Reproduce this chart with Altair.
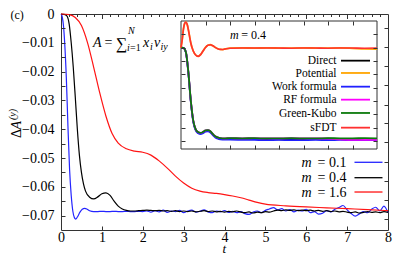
import altair as alt
import pandas as pd

# ---------------- data ----------------
# main panel: m = 0.1 (blue)
T_BLUE_EARLY = [0, 0.03, 0.06, 0.09, 0.13, 0.17, 0.21, 0.25, 0.29, 0.33, 0.36, 0.40,
                0.46, 0.52, 0.58, 0.64, 0.70]
V_BLUE_EARLY = [0, -0.0010, -0.0040, -0.0100, -0.0220, -0.0390, -0.0540, -0.0630, -0.0685,
                -0.0708, -0.0712, -0.0705, -0.0689, -0.0678, -0.0675, -0.0678, -0.0683]
T_LATE = [0.8, 0.9, 1.0, 1.1, 1.2, 1.3, 1.4, 1.5, 1.6, 1.7, 1.8, 1.9,
          2.0, 2.1, 2.2, 2.3, 2.4, 2.5, 2.6, 2.7, 2.8, 2.9,
          3.0, 3.1, 3.2, 3.3, 3.4, 3.5, 3.6, 3.7, 3.8, 3.9,
          4.0, 4.1, 4.2, 4.3, 4.4, 4.5, 4.6, 4.7, 4.8, 4.9,
          5.0, 5.1, 5.2, 5.3, 5.4, 5.5, 5.6, 5.7, 5.8, 5.9,
          6.0, 6.1, 6.2, 6.3, 6.4, 6.5, 6.6, 6.7, 6.8, 6.9,
          7.0, 7.1, 7.2, 7.3, 7.4, 7.5, 7.6, 7.7, 7.8, 7.9, 8.0]
V_BLUE_LATE = [-0.0686, -0.0686, -0.0685, -0.0686, -0.0686, -0.0685, -0.0686, -0.0686, -0.0685, -0.0686, -0.0686, -0.0685,
               -0.0686, -0.0684, -0.0688, -0.0683, -0.0687, -0.0681, -0.0689, -0.0684, -0.0686, -0.0682,
               -0.0690, -0.0684, -0.0681, -0.0688, -0.0685, -0.0680, -0.0687, -0.0690, -0.0684, -0.0687,
               -0.0683, -0.0689, -0.0685, -0.0690, -0.0686, -0.0693, -0.0696, -0.0688, -0.0684, -0.0690,
               -0.0682, -0.0677, -0.0672, -0.0680, -0.0676, -0.0684, -0.0679, -0.0687, -0.0681, -0.0684,
               -0.0678, -0.0690, -0.0686, -0.0695, -0.0692, -0.0683, -0.0687, -0.0678, -0.0672, -0.0665,
               -0.0680, -0.0693, -0.0702, -0.0694, -0.0686, -0.0690, -0.0678, -0.0671, -0.0684, -0.0667,
               -0.0690]
# main panel: m = 0.4 (black)
T_BLACK_EARLY = [0, 0.1, 0.15, 0.2, 0.25, 0.3, 0.35, 0.4, 0.45, 0.5, 0.55, 0.6, 0.7]
V_BLACK_EARLY = [0, -0.0002, -0.0008, -0.0035, -0.0100, -0.0185, -0.0290, -0.0400, -0.0490,
                 -0.0550, -0.0590, -0.0615, -0.0636]
V_BLACK_LATE = [-0.0642, -0.0635, -0.0624, -0.0621, -0.0630, -0.0650, -0.0667, -0.0677, -0.0682, -0.0684, -0.0684, -0.0683,
                -0.0682, -0.0681, -0.0682, -0.0683, -0.0682, -0.0684, -0.0683, -0.0685, -0.0683, -0.0686,
                -0.0684, -0.0686, -0.0684, -0.0687, -0.0685, -0.0683, -0.0686, -0.0684, -0.0687, -0.0685,
                -0.0688, -0.0685, -0.0687, -0.0684, -0.0688, -0.0690, -0.0687, -0.0691, -0.0688, -0.0690,
                -0.0686, -0.0688, -0.0684, -0.0681, -0.0683, -0.0680, -0.0682, -0.0680, -0.0683, -0.0681,
                -0.0683, -0.0681, -0.0684, -0.0682, -0.0685, -0.0683, -0.0686, -0.0684, -0.0687, -0.0685,
                -0.0688, -0.0690, -0.0687, -0.0691, -0.0689, -0.0686, -0.0689, -0.0687, -0.0690, -0.0686,
                -0.0689]
# main panel: m = 1.6 (red)
T_RED = [0, 0.2, 0.35, 0.5, 0.65, 0.8, 0.95, 1.1, 1.25, 1.4, 1.6, 1.8, 2.0, 2.2, 2.4, 2.6,
         2.8, 3.0, 3.2, 3.4, 3.6, 3.8, 4.0, 4.2, 4.4, 4.6, 4.8, 5.0, 5.5, 6.0, 6.5, 7.0, 7.5, 8.0]
V_RED = [0, -0.0002, -0.0012, -0.0040, -0.0100, -0.0185, -0.0275, -0.0355, -0.0415, -0.0448,
         -0.0468, -0.0476, -0.0480, -0.0490, -0.0510, -0.0535, -0.0563, -0.0587, -0.0605, -0.0615,
         -0.0620, -0.0623, -0.0627, -0.0632, -0.0638, -0.0646, -0.0654, -0.0660, -0.0666, -0.0670,
         -0.0673, -0.0676, -0.0679, -0.0683]
MAIN_NAMES = ["m = 0.1", "m = 0.4", "m = 1.6"]
MAIN_VALUES_TXT = ["= 0.1", "= 0.4", "= 1.6"]

# inset (m = 0.4)
T_IN = [0, 0.1, 0.2, 0.3, 0.4, 0.5, 0.6, 0.7, 0.8, 0.9, 1.0, 1.1, 1.2, 1.3, 1.4, 1.5, 1.6,
        1.8, 2.0, 2.5, 3.0, 3.5, 4.0, 4.5, 5.0, 5.5, 6.0, 6.5, 7.0, 7.5, 8.0]
V_DIRECT = [0, -0.0002, -0.0035, -0.0185, -0.0400, -0.0550, -0.0615, -0.0636, -0.0642, -0.0635,
            -0.0624, -0.0621, -0.0630, -0.0650, -0.0667, -0.0677, -0.0682, -0.0684, -0.0683, -0.0684,
            -0.0685, -0.0686, -0.0687, -0.0688, -0.0686, -0.0684, -0.0683, -0.0685, -0.0688, -0.0687, -0.0689]
V_WORK = [0, -0.0002, -0.0036, -0.0188, -0.0405, -0.0556, -0.0621, -0.0642, -0.0648, -0.0641,
          -0.0630, -0.0627, -0.0636, -0.0656, -0.0673, -0.0683, -0.0688, -0.0690, -0.0690, -0.0691,
          -0.0692, -0.0693, -0.0692, -0.0694, -0.0693, -0.0692, -0.0693, -0.0692, -0.0694, -0.0693, -0.0694]
V_RF = [0, -0.0002, -0.0034, -0.0183, -0.0397, -0.0547, -0.0612, -0.0633, -0.0639, -0.0632,
        -0.0621, -0.0618, -0.0627, -0.0647, -0.0664, -0.0673, -0.0678, -0.0680, -0.0679, -0.0680,
        -0.0679, -0.0681, -0.0680, -0.0679, -0.0680, -0.0681, -0.0682, -0.0688, -0.0692, -0.0691, -0.0692]
V_GK = [0, -0.0002, -0.0034, -0.0183, -0.0397, -0.0547, -0.0612, -0.0633, -0.0639, -0.0632,
        -0.0621, -0.0618, -0.0627, -0.0647, -0.0664, -0.0673, -0.0678, -0.0680, -0.0679, -0.0680,
        -0.0679, -0.0681, -0.0680, -0.0679, -0.0680, -0.0681, -0.0679, -0.0680, -0.0680, -0.0679, -0.0680]
T_IN_RED = [0, 0.05, 0.1, 0.15, 0.2, 0.25, 0.3, 0.35, 0.4,
            0.5, 0.6, 0.7, 0.8, 0.9, 1.0, 1.1, 1.2, 1.3, 1.4, 1.5, 1.6, 1.7, 1.8,
            2.0, 2.5, 3.0, 3.5, 4.0, 4.5, 5.0, 5.5, 6.0, 6.5, 7.0, 7.5, 8.0]
V_SFDT = [0, 0.0060, 0.0140, 0.0182, 0.0192, 0.0175, 0.0135, 0.0085, 0.0035,
          -0.0025, -0.0055, -0.0065, -0.0052, -0.0025, 0.0002, 0.0018, 0.0022, 0.0014, 0.0002,
          -0.0008, -0.0013, -0.0014, -0.0010,
          -0.0004, -0.0002, -0.0003, -0.0002, -0.0003, -0.0004, -0.0002, -0.0003, -0.0004,
          -0.0002, -0.0003, -0.0004, -0.0003]
V_POT = [0, 0.0060, 0.0140, 0.0182, 0.0192, 0.0175, 0.0135, 0.0085, 0.0035,
         -0.0025, -0.0055, -0.0065, -0.0052, -0.0025, 0.0002, 0.0018, 0.0022, 0.0014, 0.0002,
         -0.0008, -0.0013, -0.0014, -0.0010,
         -0.0004, -0.0002, -0.0003, -0.0002, -0.0003, -0.0004, -0.0002, -0.0003, -0.0004,
         -0.0002, -0.0005, -0.0009, -0.0010]
IN_NAMES = ["Direct", "Potential", "Work formula", "RF formula", "Green-Kubo", "sFDT"]

X_TICK_LABELS = [0, 1, 2, 3, 4, 5, 6, 7, 8]
Y_TICK_LABELS = [0, -0.01, -0.02, -0.03, -0.04, -0.05, -0.06, -0.07]

# ---------------- styling ----------------
SERIF = "Liberation Serif"
TICK = "#333333"
MAIN_COLORS = ["#2424ff", "#000000", "#ff1414"]
IN_COLORS = ["#000000", "#ffa500", "#2020ff", "#ff00ff", "#0b7a0b", "#ff3030"]

X_MAJ = [1, 2, 3, 4, 5, 6, 7]
X_MIN = [round(i * 0.2, 1) for i in range(1, 40) if i % 5]
Y_LEFT_TICKS = [round(-0.005 * i, 3) for i in range(1, 15)]
Y_RIGHT_TICKS = [-0.0049, -0.0115, -0.0182, -0.0248, -0.0315, -0.0380, -0.0444,
                 -0.0513, -0.0579, -0.0646, -0.0711]
IN_Y_TICKS = [0.01, 0, -0.01, -0.02, -0.03, -0.04, -0.05, -0.06, -0.07]

X_MAIN = alt.Scale(domain=[0, 8], nice=False, zero=False)
Y_MAIN = alt.Scale(domain=[-0.075, 0], nice=False, zero=False)
X_IN = alt.Scale(domain=[0, 8], range=[120, 316], nice=False, zero=False)
Y_IN = alt.Scale(domain=[-0.076, 0.02], range=[135, 7], nice=False, zero=False)


def tick_axis(orient, offset, values, size):
    return alt.Axis(orient=orient, offset=offset, values=values, tickSize=size,
                    ticks=True, labels=False, domain=False, grid=False, title=None,
                    tickColor=TICK, tickWidth=1, zindex=2)


x_lab = alt.Axis(orient="bottom", values=X_TICK_LABELS, format="d", ticks=False,
                 domain=False, grid=False, title=None, labelFont=SERIF, labelFontSize=14,
                 labelColor="black", labelPadding=0, labelFlush=False, labelOverlap=False)
y_lab = alt.Axis(orient="left", values=Y_TICK_LABELS, ticks=False, domain=False, grid=False,
                 title=None, labelFont=SERIF, labelFontSize=14, labelColor="black",
                 labelPadding=7, labelFlush=False, labelOverlap=False,
                 labelExpr="datum.value == 0 ? '0' : format(datum.value, '.2f')")


def line(t, v, color, width, sx, sy, ax=None, ay=None):
    df = pd.DataFrame({"t": t, "v": v})
    return alt.Chart(df).mark_line(color=color, strokeWidth=width, interpolate="monotone").encode(
        x=alt.X("t:Q", scale=sx, axis=ax), y=alt.Y("v:Q", scale=sy, axis=ay))


def texts(rows, italic, align, sx, sy):
    df = pd.DataFrame(rows, columns=["text", "t", "v", "size", "angle"])
    return alt.Chart(df).mark_text(font=SERIF, fontStyle="italic" if italic else "normal",
                                   align=align, baseline="alphabetic", color="black").encode(
        x=alt.X("t:Q", scale=sx, axis=None), y=alt.Y("v:Q", scale=sy, axis=None),
        text="text:N", size=alt.Size("size:Q", scale=None),
        angle=alt.Angle("angle:Q", scale=None))


# ---------------- main panel ----------------
LEG_V = [-0.05149, -0.05684, -0.06181]
LEG_BASE = [-0.05306, -0.05840, -0.06337]
main_leg = pd.DataFrame({"name": MAIN_NAMES, "x1": [7.18] * 3, "x2": [7.865] * 3, "y": LEG_V})
main_leg_rules = alt.Chart(main_leg).mark_rule(strokeWidth=1.3).encode(
    x=alt.X("x1:Q", scale=X_MAIN, axis=tick_axis("bottom", -216, X_MAJ, 4.5)),
    x2="x2:Q",
    y=alt.Y("y:Q", scale=Y_MAIN, axis=None),
    color=alt.Color("name:N", scale=alt.Scale(domain=MAIN_NAMES, range=MAIN_COLORS), legend=None))

main_italic = [
    ("A", 0.783, -0.01163, 14, 0), ("N", 1.639, -0.00694, 10, 0), ("i", 1.615, -0.01302, 10, 0),
    ("x", 2.006, -0.01163, 14, 0), ("i", 2.175, -0.01267, 10, 0), ("v", 2.273, -0.01163, 14, 0),
    ("iy", 2.432, -0.01267, 10, 0),
    ("A", -0.990, -0.04007, 14, 270), ("(y)", -1.090, -0.03681, 10, 270),
    ("t", 3.950, -0.08290, 13, 0),
] + [("m", 5.884, b, 14, 0) for b in LEG_BASE]
main_upright = [
    ("(c)", -1.235, -0.00174, 12, 0), ("=", 1.064, -0.01163, 14, 0), ("∑", 1.346, -0.01198, 16, 0),
    ("=1", 1.688, -0.01302, 10, 0), ("Δ", -0.990, -0.04306, 14, 270),
] + [(s, 6.275, b, 14, 0) for s, b in zip(MAIN_VALUES_TXT, LEG_BASE)]

main_layers = [
    line(T_BLUE_EARLY + T_LATE, V_BLUE_EARLY + V_BLUE_LATE, MAIN_COLORS[0], 1.2, X_MAIN, Y_MAIN, x_lab, y_lab),
    line(T_BLACK_EARLY + T_LATE, V_BLACK_EARLY + V_BLACK_LATE, MAIN_COLORS[1], 1.2, X_MAIN, Y_MAIN,
         tick_axis("top", -216, X_MAJ, 4), tick_axis("right", -327, Y_LEFT_TICKS, 4)),
    line(T_RED, V_RED, MAIN_COLORS[2], 1.2, X_MAIN, Y_MAIN,
         tick_axis("bottom", -216, X_MIN, 2.5), tick_axis("left", -327, Y_RIGHT_TICKS, 4)),
    main_leg_rules,
    texts(main_italic, True, "left", X_MAIN, Y_MAIN),
    texts(main_upright, False, "left", X_MAIN, Y_MAIN),
]
main = alt.layer(*main_layers).resolve_axis(x="independent", y="independent")

# ---------------- inset ----------------
frame = pd.DataFrame({"x1": [0], "x2": [8], "y1": [-0.076], "y2": [0.02]})
inset_frame = alt.Chart(frame).mark_rect(fill="white", stroke=TICK, strokeWidth=1).encode(
    x=alt.X("x1:Q", scale=X_IN, axis=tick_axis("top", -135, X_MAJ, 4)),
    x2="x2:Q",
    y=alt.Y("y1:Q", scale=Y_IN, axis=tick_axis("right", -207, IN_Y_TICKS, 4)),
    y2="y2:Q")

IN_LEG_V = [-0.00975, -0.01898, -0.02925, -0.03900, -0.04898, -0.06000]
IN_LEG_BASE = [-0.01255, -0.02178, -0.03205, -0.04180, -0.05178, -0.06280]
in_leg = pd.DataFrame({"name": IN_NAMES, "x1": [6.53] * 6, "x2": [7.714] * 6, "y": IN_LEG_V})
in_leg_rules = alt.Chart(in_leg).mark_rule(strokeWidth=1.8).encode(
    x=alt.X("x1:Q", scale=X_IN, axis=None), x2="x2:Q",
    y=alt.Y("y:Q", scale=Y_IN, axis=None),
    color=alt.Color("name:N", scale=alt.Scale(domain=IN_NAMES, range=IN_COLORS), legend=None))

in_right = [(n, 6.347, b, 11.5, 0) for n, b in zip(IN_NAMES, IN_LEG_BASE)]
in_italic = [("m", 2.0, 0.00653, 12, 0)]
in_upright = [("= 0.4", 2.46, 0.00653, 12, 0)]

inset_layers = [
    inset_frame,
    line(T_IN, V_DIRECT, IN_COLORS[0], 1.8, X_IN, Y_IN,
         tick_axis("bottom", -209, X_MAJ, 4), tick_axis("left", -316, IN_Y_TICKS, 4)),
    line(T_IN_RED, V_POT, IN_COLORS[1], 1.8, X_IN, Y_IN),
    line(T_IN, V_WORK, IN_COLORS[2], 1.8, X_IN, Y_IN),
    line(T_IN, V_RF, IN_COLORS[3], 1.8, X_IN, Y_IN),
    line(T_IN, V_GK, IN_COLORS[4], 1.8, X_IN, Y_IN),
    line(T_IN_RED, V_SFDT, IN_COLORS[5], 1.6, X_IN, Y_IN),
    in_leg_rules,
    texts(in_right, False, "right", X_IN, Y_IN),
    texts(in_italic, True, "left", X_IN, Y_IN),
    texts(in_upright, False, "left", X_IN, Y_IN),
]
inset = alt.layer(*inset_layers).resolve_axis(x="independent", y="independent")

chart = alt.layer(main, inset).resolve_scale(
    x="independent", y="independent", color="independent"
).resolve_axis(x="independent", y="independent").properties(
    width=327, height=216,
    autosize=alt.AutoSizeParams(type="none"),
    padding={"left": 53, "top": 6, "right": 11, "bottom": 24},
).configure_view(stroke=TICK, strokeWidth=1)

chart.save("out.html", embed_options={"renderer": "svg", "actions": False})
